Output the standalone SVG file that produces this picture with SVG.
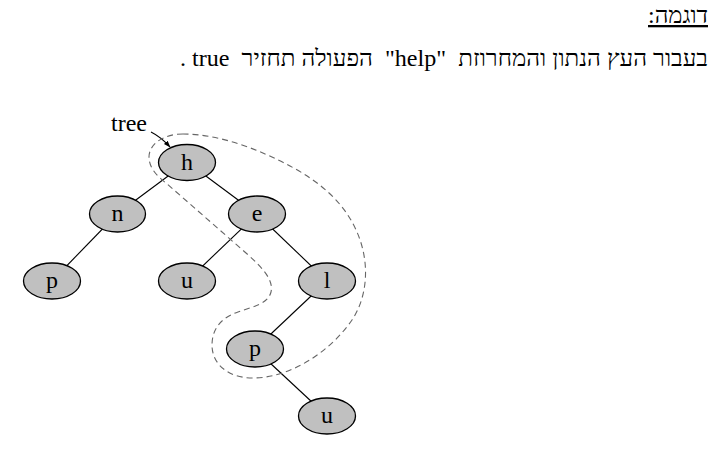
<svg xmlns="http://www.w3.org/2000/svg" width="722" height="449" viewBox="0 0 722 449">
<style>
.hd{font-family:"Liberation Serif","Times New Roman",serif;font-size:23px;fill:#000}
.nd ellipse{fill:#c0c0c0;stroke:#000;stroke-width:1.3}
.nd text{font-family:"Liberation Serif","Times New Roman",serif;font-size:24px;fill:#000;text-anchor:middle}
.edge{stroke:#000;stroke-width:1.1;fill:none}
</style>
<defs>
<marker id="ah" viewBox="0 0 10 10" refX="9" refY="5" markerWidth="7" markerHeight="7" orient="auto" markerUnits="userSpaceOnUse">
<path d="M0,1.5 L10,5 L0,8.5 Z" fill="#000"/>
</marker>
</defs>
<rect width="722" height="449" fill="#fff"/>
<text class="hd" x="708" y="23" direction="rtl" text-anchor="start" text-decoration="underline" textLength="60" lengthAdjust="spacingAndGlyphs">דוגמה:</text>
<text class="hd" x="708" y="66" direction="rtl" text-anchor="start" xml:space="preserve" textLength="528" lengthAdjust="spacingAndGlyphs">בעבור העץ הנתון והמחרוזת  "help"  הפעולה תחזיר  true .</text>
<g id="connectors">
<line class="edge" x1="187" y1="162" x2="117" y2="214"/>
<line class="edge" x1="187" y1="162" x2="257" y2="214"/>
<line class="edge" x1="117" y1="214" x2="52" y2="281"/>
<line class="edge" x1="257" y1="214" x2="187" y2="281"/>
<line class="edge" x1="257" y1="214" x2="327" y2="281"/>
<line class="edge" x1="327" y1="281" x2="255" y2="349"/>
<line class="edge" x1="255" y1="349" x2="327" y2="416"/>
<path class="edge" d="M151,132 Q161,137 170,147" marker-end="url(#ah)"/>
</g>
<path id="outline" d="M183,134 C162,134 149,145 149,157 C149,168 157,176 166,183 L246,253 C262,267 274,280 271,292 C268,304 252,307 238,312 C220,318 212,330 212,345 C212,364 228,378 253,378 C290,378 330,352 352,320 C368,296 370,262 357,232 C344,202 320,182 290,166 C260,150 220,134 183,134 Z" fill="none" stroke="#666" stroke-width="1.1" stroke-dasharray="6,4"/>
<g id="n-h" class="nd"><ellipse cx="187" cy="162.5" rx="28.5" ry="18"/><text x="187" y="170">h</text></g>
<g id="n-n" class="nd"><ellipse cx="117.5" cy="214" rx="28" ry="18"/><text x="117.5" y="221">n</text></g>
<g id="n-e" class="nd"><ellipse cx="257" cy="214" rx="28.5" ry="18"/><text x="257" y="221">e</text></g>
<g id="n-p1" class="nd"><ellipse cx="52" cy="281" rx="28.5" ry="18"/><text x="52" y="288">p</text></g>
<g id="n-u1" class="nd"><ellipse cx="187" cy="281" rx="28.5" ry="18"/><text x="187" y="288">u</text></g>
<g id="n-l" class="nd"><ellipse cx="327" cy="281" rx="28.5" ry="18"/><text x="327" y="288">l</text></g>
<g id="n-p2" class="nd"><ellipse cx="255" cy="349" rx="28.5" ry="18"/><text x="255" y="356">p</text></g>
<g id="n-u2" class="nd"><ellipse cx="327" cy="416" rx="28.5" ry="18"/><text x="327" y="423">u</text></g>
<text id="lbl-tree" x="111" y="131" style="font-family:'Liberation Serif','Times New Roman',serif;font-size:24px">tree</text>
</svg>
